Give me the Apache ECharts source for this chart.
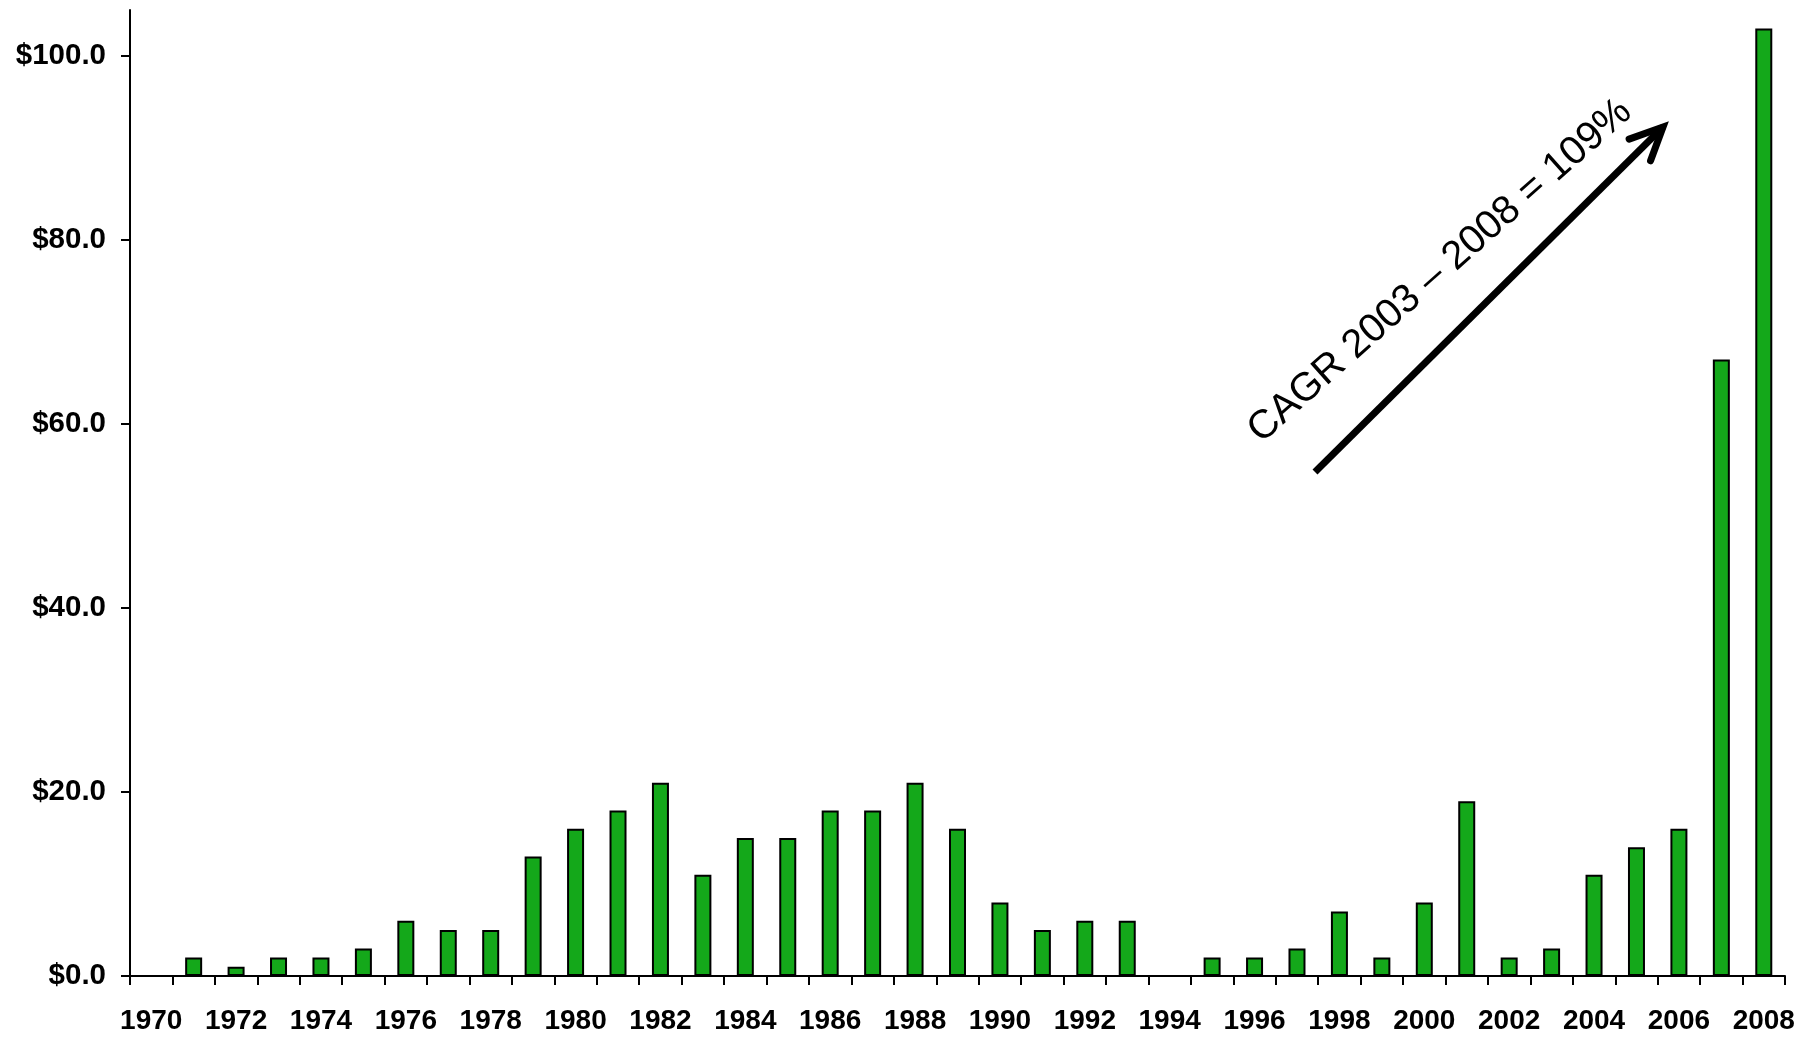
<!DOCTYPE html>
<html>
<head>
<meta charset="utf-8">
<title>Annual investment, 1970–2008</title>
<script src="https://cdn.jsdelivr.net/npm/echarts@6/dist/echarts.min.js"></script>
<style>
  html, body { margin: 0; padding: 0; background: #fff; }
  #chart { width: 1816px; height: 1037px; }
</style>
</head>
<body>
<div id="chart"></div>
<script>
// Years on the category axis
const years = [
  '1970','1971','1972','1973','1974','1975','1976','1977','1978','1979',
  '1980','1981','1982','1983','1984','1985','1986','1987','1988','1989',
  '1990','1991','1992','1993','1994','1995','1996','1997','1998','1999',
  '2000','2001','2002','2003','2004','2005','2006','2007','2008'
];

// Annual amounts ($)
const amounts = [
  0, 2, 1, 2, 2, 3, 6, 5, 5, 13,
  16, 18, 21, 11, 15, 15, 18, 18, 21, 16,
  8, 5, 6, 6, 0, 2, 2, 3, 7, 2,
  8, 19, 2, 3, 11, 14, 16, 67, 103
];

// Value-axis ticks
const valueTicks = [0, 20, 40, 60, 80, 100];

// Growth note
const cagrText = 'CAGR 2003 \u2013 2008 = 109%';

const FONT = '"Liberation Sans", Arial, sans-serif';

const chart = echarts.init(document.getElementById('chart'), null, { renderer: 'canvas' });

// Arrow geometry (pixels)
const tail = [1315, 472];
const tip = [1663, 127];
const ang = Math.atan2(tip[1] - tail[1], tip[0] - tail[0]);
const wingLen = 36;
const wingSpread = 25 * Math.PI / 180;
const wingA = [tip[0] - wingLen * Math.cos(ang - wingSpread), tip[1] - wingLen * Math.sin(ang - wingSpread)];
const wingB = [tip[0] - wingLen * Math.cos(ang + wingSpread), tip[1] - wingLen * Math.sin(ang + wingSpread)];

chart.setOption({
  animation: false,
  backgroundColor: '#ffffff',
  grid: { left: 130, right: 31, top: 10, bottom: 61, containLabel: false },
  xAxis: {
    type: 'category',
    data: years,
    boundaryGap: true,
    axisLine: { lineStyle: { color: '#000', width: 2 } },
    axisTick: { show: true, interval: 0, length: 9, alignWithLabel: false, lineStyle: { color: '#000', width: 2 } },
    axisLabel: {
      interval: 1,
      margin: 31,
      color: '#000',
      fontFamily: FONT,
      fontWeight: 'bold',
      fontSize: 28
    },
    splitLine: { show: false }
  },
  yAxis: {
    type: 'value',
    min: 0,
    max: 105,
    interval: 20,
    axisLine: { show: true, lineStyle: { color: '#000', width: 2 } },
    axisTick: { show: true, length: 9, customValues: valueTicks, lineStyle: { color: '#000', width: 2 } },
    axisLabel: {
      customValues: valueTicks,
      margin: 24,
      color: '#000',
      fontFamily: FONT,
      fontWeight: 'bold',
      fontSize: 29.5,
      formatter: v => (v % 20 === 0 ? '$' + v.toFixed(1) : '')
    },
    splitLine: { show: false }
  },
  series: [{
    type: 'bar',
    data: amounts,
    barWidth: 17,
    itemStyle: { color: '#14A81A', borderColor: '#000', borderWidth: 2 }
  }],
  graphic: [
    {
      type: 'line',
      shape: { x1: tail[0], y1: tail[1], x2: tip[0], y2: tip[1] },
      style: { stroke: '#000', lineWidth: 7, lineCap: 'butt' },
      z: 10
    },
    {
      type: 'polyline',
      shape: { points: [wingA, tip, wingB] },
      style: { stroke: '#000', lineWidth: 7, lineCap: 'round', lineJoin: 'miter', fill: null },
      z: 10
    },
    {
      type: 'text',
      x: 1440,
      y: 271,
      rotation: 41.5 * Math.PI / 180,
      style: {
        text: cagrText,
        fill: '#000',
        font: 'normal 40px ' + FONT,
        align: 'center',
        verticalAlign: 'middle'
      },
      z: 10
    }
  ]
});
</script>
</body>
</html>
